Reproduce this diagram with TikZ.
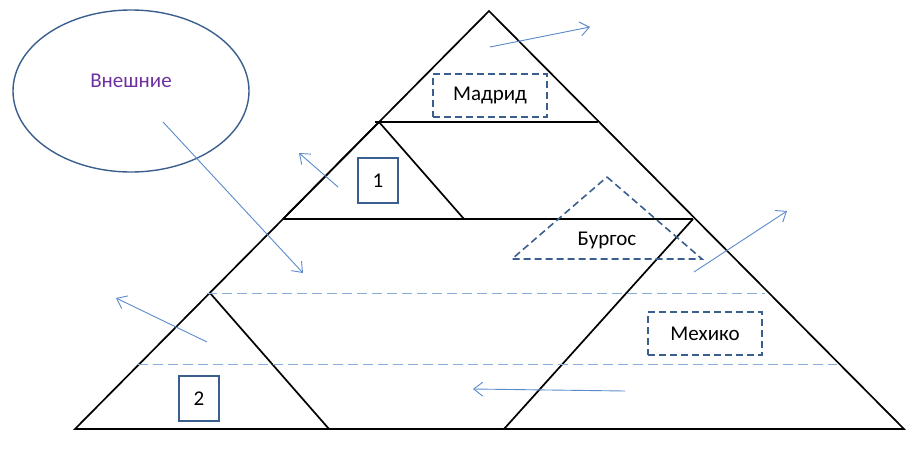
\documentclass[tikz,border=0pt]{standalone}
\usepackage{fontspec}
\setmainfont{Carlito}
\usetikzlibrary{arrows.meta,shapes.geometric}

\definecolor{boxblue}{HTML}{3A5F8E}
\definecolor{flowblue}{HTML}{5B8BCB}
\definecolor{levelblue}{HTML}{8AAEDC}
\definecolor{extpurple}{HTML}{7030A0}

\tikzset{
  edge/.style={line width=1.7pt},
  dashbox/.style={draw=boxblue, line width=1.6pt, dash pattern=on 7pt off 4pt,
    minimum width=114pt, minimum height=43pt, inner sep=0pt},
  numbox/.style={draw=boxblue, line width=1.6pt,
    minimum width=40pt, minimum height=45pt, inner sep=0pt},
  flow/.style={draw=flowblue, line width=0.9pt, -{Straight Barb[length=9pt,width=14pt]}},
  level/.style={draw=levelblue, line width=1pt, dash pattern=on 10pt off 5pt},
}

\begin{document}
\begin{tikzpicture}[x=1pt,y=-1pt]
\fontsize{21}{25}\selectfont
\useasboundingbox (0,0) rectangle (918,450);

% pyramid
\coordinate (top) at (489,11);
\coordinate (bl) at (75,429);
\coordinate (br) at (904,429);
\draw[edge] (top) -- (br) -- (bl) -- cycle;

% levels
\draw[edge] (375,122) -- (598,122);
\draw[edge] (283,219) -- (693,219);
\draw[edge] (283,219) -- (379,122) -- (464,219);
\draw[edge] (693,219) -- (504,429);
\draw[edge] (210,293) -- (329,429);

\draw[level] (207,293) -- (765,293);
\draw[level] (138,364) -- (837,364);

% outside
\node[draw=boxblue, line width=1.4pt, ellipse, minimum width=236pt, minimum height=162pt,
  label={[text=extpurple, yshift=10pt]center:Внешние}] (ext) at (131,91) {};

% cities
\node[dashbox] (madrid) at (490,95.5) {Мадрид};
\node[dashbox] (mexico) at (705,333.5) {Мехико};
\draw[draw=boxblue, line width=1.6pt, dash pattern=on 7pt off 4pt]
  (607,177) -- (702,259) -- (512,259) -- cycle;
\node (burgos) at (607,240) {Бургос};

\node[numbox] (one) at (378,180.5) {1};
\node[numbox] (two) at (199,398.5) {2};

% flows
\coordinate (f1a) at (163,122); \coordinate (f1b) at (303,273);
\coordinate (f2a) at (490,47);  \coordinate (f2b) at (590,27);
\coordinate (f3a) at (338,187); \coordinate (f3b) at (299,153);
\coordinate (f4a) at (694,272); \coordinate (f4b) at (787,211);
\coordinate (f5a) at (207,342); \coordinate (f5b) at (116,298);
\coordinate (f6a) at (625,391); \coordinate (f6b) at (473,389);
\foreach \f in {1,...,6}
  \draw[flow] (f\f a) -- (f\f b);
\end{tikzpicture}
\end{document}
